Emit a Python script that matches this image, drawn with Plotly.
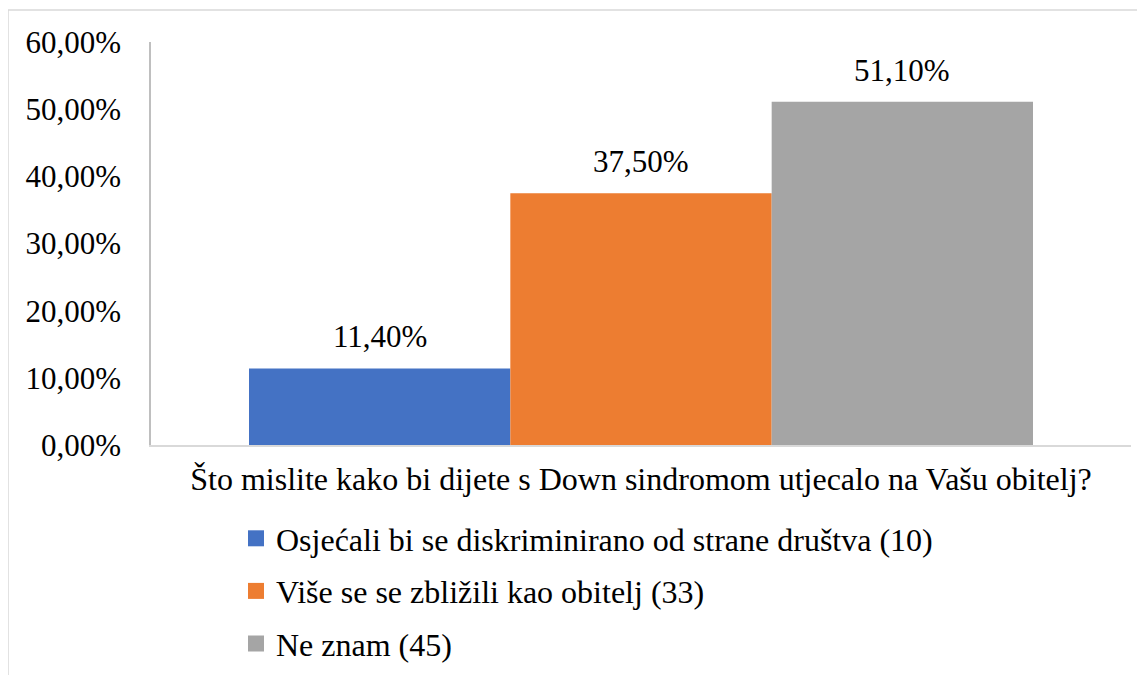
import plotly.graph_objects as go

category = ["Što mislite kako bi dijete s Down sindromom utjecalo na Vašu obitelj?"]
series_names = [
    "Osjećali bi se diskriminirano od strane društva (10)",
    "Više se se zbližili kao obitelj (33)",
    "Ne znam (45)",
]
values = [0.114, 0.375, 0.511]
value_labels = ["11,40%", "37,50%", "51,10%"]
colors = ["#4472C4", "#ED7D31", "#A5A5A5"]
tick_vals = [0, 0.1, 0.2, 0.3, 0.4, 0.5, 0.6]
tick_text = ["0,00%", "10,00%", "20,00%", "30,00%", "40,00%", "50,00%", "60,00%"]

FONT = "Liberation Serif"
FS_TXT = 32
FS_NUM = 31
W, H = 1145, 675
OFF = 8  # page body margin
L, R, T, B = 151 - OFF, 14 + OFF, 42 - OFF, 230 + OFF
BARGAP = 0.2

fig = go.Figure()
n = len(values)
bw = (1 - BARGAP) / n
for i, (name, v, c) in enumerate(zip(series_names, values, colors)):
    fig.add_trace(go.Bar(
        x=category, y=[v], name=name, marker_color=c, marker_line_width=0,
        legendgroup=f"g{i}", showlegend=False,
    ))
    fig.add_trace(go.Scatter(
        x=[None], y=[None], mode="markers", name=name,
        marker=dict(symbol="square", size=16, color=c),
        legendgroup=f"g{i}", showlegend=True,
    ))
    fig.add_annotation(
        x=(i - (n - 1) / 2) * bw, y=v, xref="x", yref="y",
        text=value_labels[i], showarrow=False, yanchor="bottom",
        yshift=12, font=dict(family=FONT, size=FS_NUM, color="black"),
    )

pw = W - L - R
ph = H - T - B
def px2x(p):
    return (p - OFF - L) / pw
def py2y(p):
    return (H - B - (p - OFF)) / ph

# outer chart frame (cropped)
fig.add_shape(type="path", xref="paper", yref="paper",
              path=f"M {px2x(8)} {py2y(690)} L {px2x(8)} {py2y(10)} L {px2x(1160)} {py2y(10)}",
              line=dict(color="#D9D9D9", width=1.5), layer="below")

fig.update_layout(
    width=W, height=H,
    margin=dict(l=L, r=R, t=T, b=B, autoexpand=False),
    paper_bgcolor="white", plot_bgcolor="white",
    barmode="group", bargap=BARGAP, bargroupgap=0,
    font=dict(family=FONT, size=FS_TXT, color="black"),
    showlegend=True,
    legend=dict(
        orientation="v", x=px2x(236), xanchor="left", y=py2y(511), yanchor="top",
        font=dict(family=FONT, size=FS_TXT, color="black"),
        tracegroupgap=8, bgcolor="rgba(0,0,0,0)",
    ),
)
fig.update_xaxes(
    type="category", showline=True, linecolor="#D9D9D9", linewidth=1.5,
    showgrid=False, ticks="", ticklabelstandoff=5,
    tickfont=dict(family=FONT, size=FS_TXT, color="black"),
)
fig.update_yaxes(
    range=[0, 0.6], tickvals=tick_vals, ticktext=tick_text,
    showline=True, linecolor="#BFBFBF", linewidth=1.5,
    showgrid=False, zeroline=False, ticks="", ticklabelstandoff=22,
    tickfont=dict(family=FONT, size=FS_NUM, color="black"),
)

fig.write_html("out.html")
